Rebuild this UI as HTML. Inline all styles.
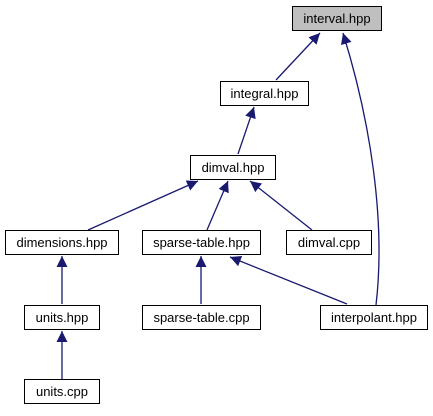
<!DOCTYPE html>
<html><head><style>
body{margin:0;background:#fff;}
svg text{font-family:"Liberation Sans",sans-serif;font-size:13px;}
</style></head><body>
<svg width="433" height="411" viewBox="0 0 433 411" xmlns="http://www.w3.org/2000/svg">
<defs>
<marker id="a" markerWidth="12" markerHeight="12" refX="11" refY="5.5" orient="auto" markerUnits="userSpaceOnUse">
<path d="M0,0 L11,5.5 L0,11 Z" fill="#191970"/>
</marker>
</defs>
<g stroke="#191970" stroke-width="1.3" fill="none" marker-end="url(#a)">
<path d="M276,80 L320,33"/>
<path d="M376,305 C386,220 370,120 343,33"/>
<path d="M238,154 L254,107"/>
<path d="M88,230 L198,181"/>
<path d="M207,230 L228,181"/>
<path d="M312,230 L250,181"/>
<path d="M62,304 L62,256"/>
<path d="M201,304 L201,256"/>
<path d="M347,304 L230,257"/>
<path d="M62,379 L62,331"/>
</g>
<g stroke="#000" stroke-width="1">
<rect x="292.5" y="6.5" width="89" height="24" fill="#bfbfbf"/>
<rect x="220.5" y="81.5" width="88" height="24" fill="#fff"/>
<rect x="190.5" y="155.5" width="85" height="24" fill="#fff"/>
<rect x="5.5" y="230.5" width="113" height="24" fill="#fff"/>
<rect x="142.5" y="230.5" width="118" height="24" fill="#fff"/>
<rect x="286.5" y="230.5" width="85" height="24" fill="#fff"/>
<rect x="24.5" y="305.5" width="75" height="24" fill="#fff"/>
<rect x="142.5" y="305.5" width="118" height="24" fill="#fff"/>
<rect x="320.5" y="305.5" width="107" height="24" fill="#fff"/>
<rect x="24.5" y="379.5" width="75" height="24" fill="#fff"/>
</g>
<g fill="#000" text-anchor="middle">
<text x="337" y="23">interval.hpp</text>
<text x="264.5" y="98">integral.hpp</text>
<text x="233" y="172">dimval.hpp</text>
<text x="62" y="247">dimensions.hpp</text>
<text x="201.5" y="247">sparse-table.hpp</text>
<text x="329" y="247">dimval.cpp</text>
<text x="62" y="322">units.hpp</text>
<text x="201.5" y="322">sparse-table.cpp</text>
<text x="374" y="322">interpolant.hpp</text>
<text x="62" y="396">units.cpp</text>
</g>
</svg>
</body></html>
